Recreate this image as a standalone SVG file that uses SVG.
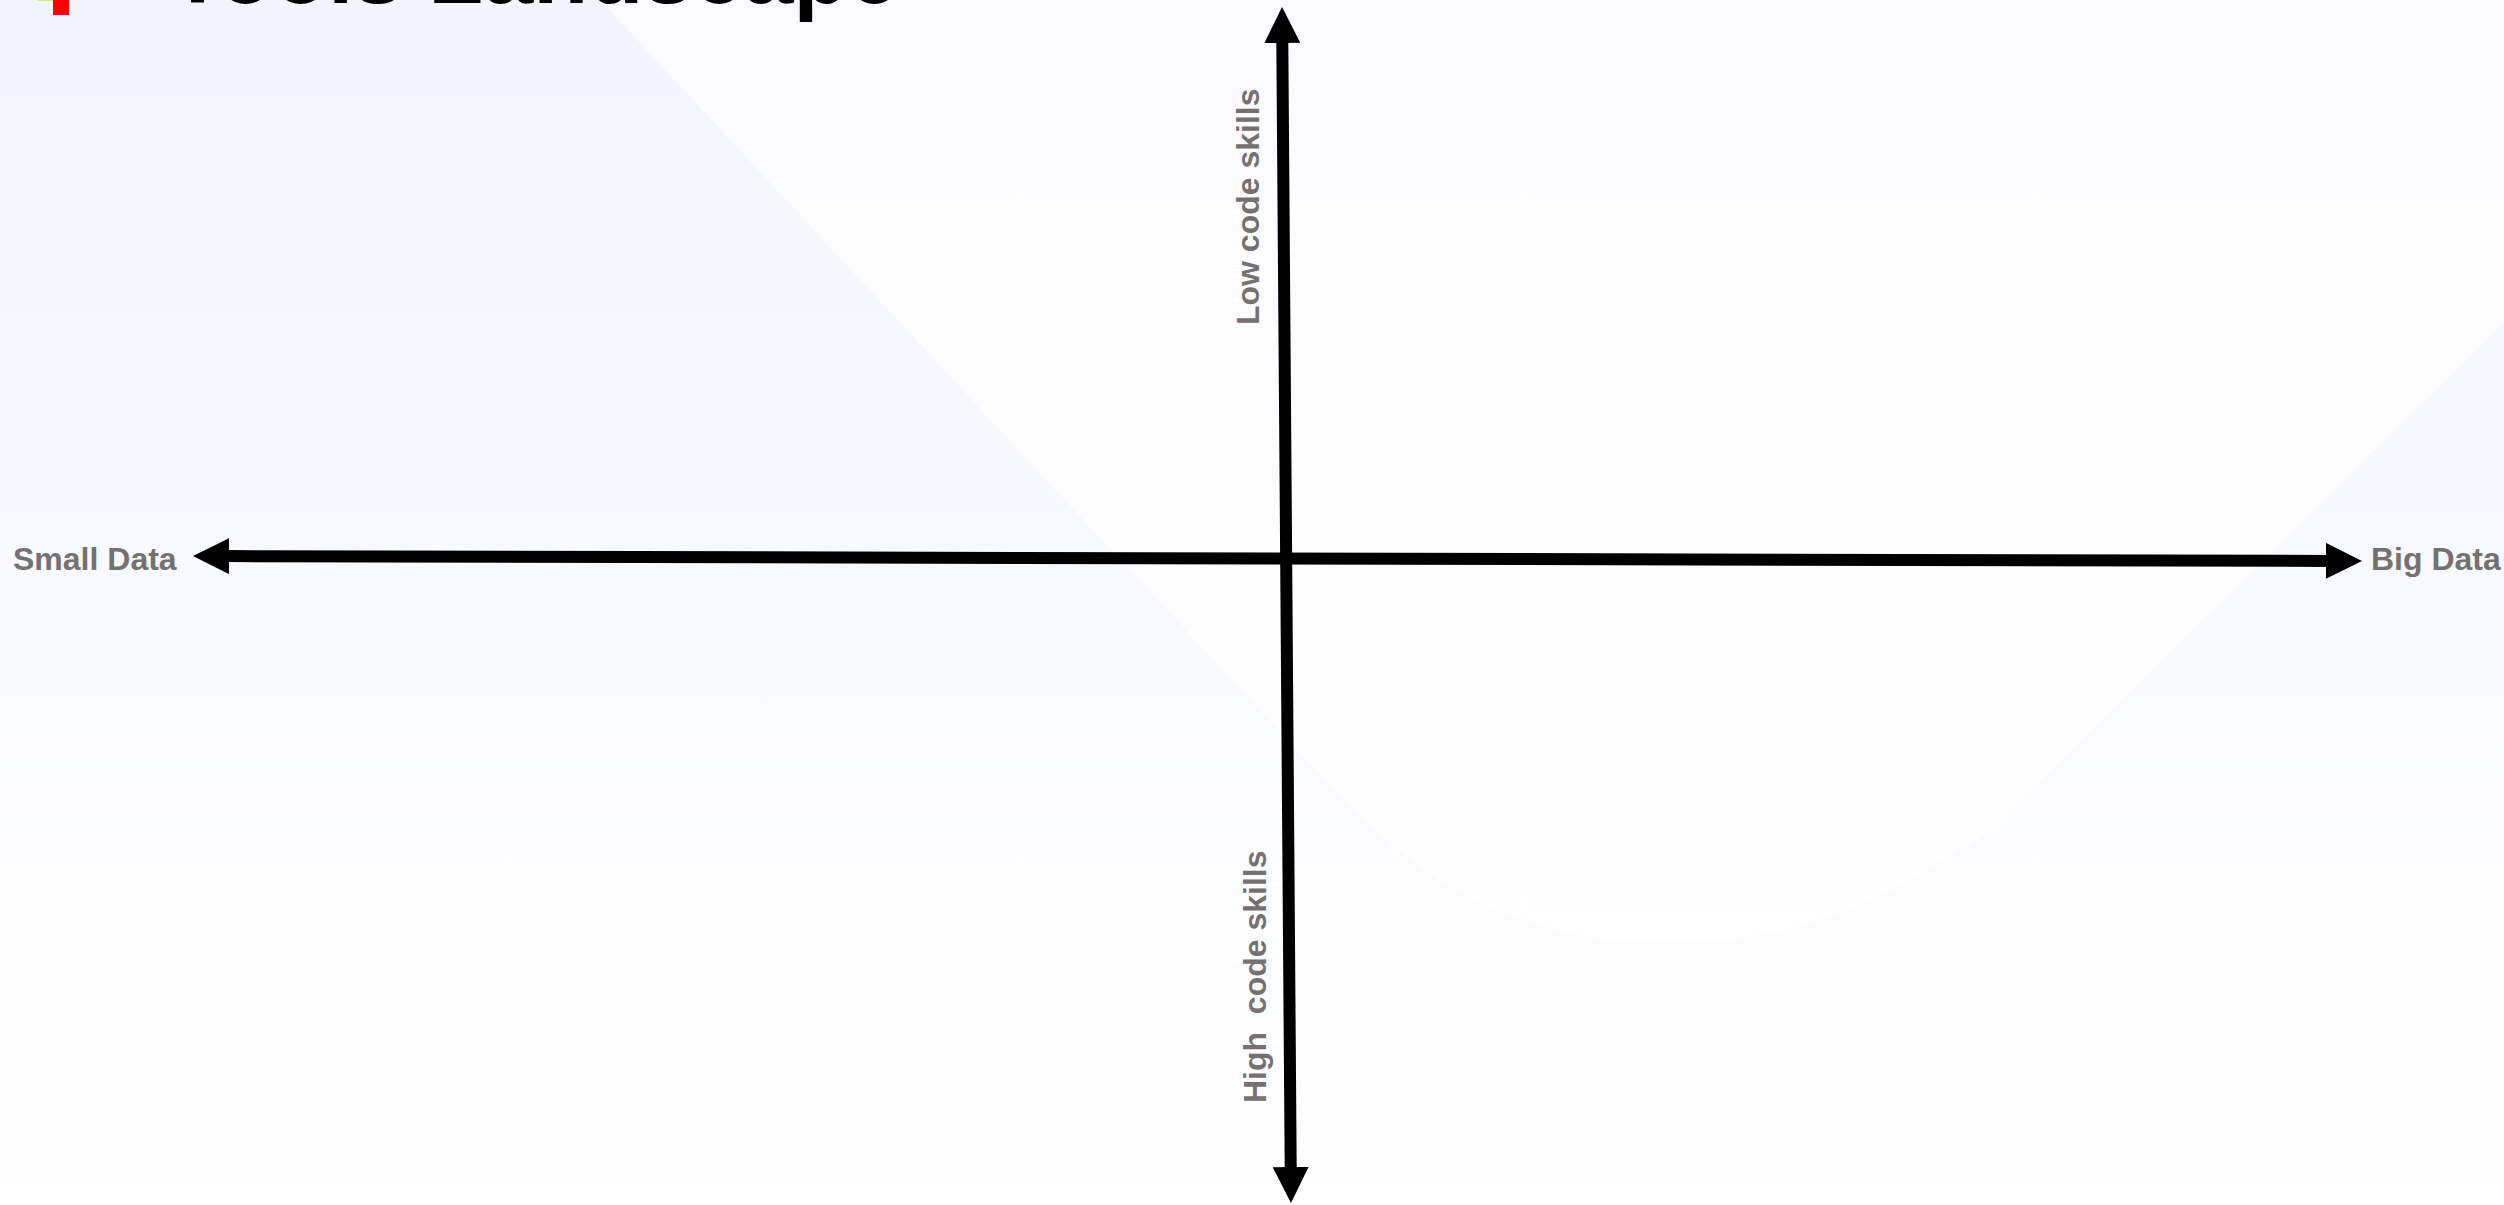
<svg xmlns="http://www.w3.org/2000/svg" width="2504" height="1205" viewBox="0 0 2504 1205">
  <defs>
    <linearGradient id="bgGrad" x1="0" y1="0" x2="0" y2="1">
      <stop offset="0" stop-color="#f3f5fe"/>
      <stop offset="0.55" stop-color="#f9fafe"/>
      <stop offset="1" stop-color="#ffffff"/>
    </linearGradient>
    <linearGradient id="waveGrad" x1="0" y1="0" x2="0" y2="1">
      <stop offset="0" stop-color="#fbfbff"/>
      <stop offset="1" stop-color="#ffffff"/>
    </linearGradient>
    <marker id="head" viewBox="0 0 36 36" refX="2" refY="18" markerWidth="36" markerHeight="36" markerUnits="userSpaceOnUse" orient="auto-start-reverse">
      <path d="M0,0 L36,18 L0,36 Z" fill="#000000"/>
    </marker>
  </defs>
  <style>
    .axis { stroke: #000000; stroke-width: 12; fill: none; }
    .lbl { font-family: "Liberation Sans", Arial, sans-serif; font-weight: bold; font-size: 32px; fill: #767171; }
    .title { font-family: "Liberation Sans", Arial, sans-serif; font-weight: bold; font-size: 90px; fill: #000000; }
  </style>

  <g id="background">
    <rect x="0" y="0" width="2504" height="1205" fill="url(#bgGrad)"/>
    <path d="M600,0 L1330,785 C1450,915 1560,945 1680,942 C1800,940 1880,905 1990,830 L2504,322 L2504,0 Z" fill="url(#waveGrad)"/>
  </g>

  <g id="title">
    <rect x="38" y="-15" width="15" height="16" fill="#c8ee8c"/>
    <rect x="53" y="-2" width="16" height="17" fill="#ff0000"/>
    <text class="title" x="170" y="3">Tools Landscape</text>
  </g>

  <g id="connectors">
    <line class="axis" x1="227" y1="556.1" x2="2328" y2="560.9" marker-start="url(#head)" marker-end="url(#head)"/>
    <line class="axis" x1="1282.3" y1="41" x2="1290.7" y2="1169" marker-start="url(#head)" marker-end="url(#head)"/>
  </g>

  <g id="small-data">
    <text class="lbl" x="13" y="570">Small Data</text>
  </g>
  <g id="big-data">
    <text class="lbl" x="2371" y="570">Big Data</text>
  </g>
  <g id="low-code">
    <text class="lbl" transform="translate(1259,325) rotate(-90)">Low code skills</text>
  </g>
  <g id="high-code">
    <text class="lbl" xml:space="preserve" style="white-space:pre" transform="translate(1266,1103) rotate(-90)">High  code skills</text>
  </g>
</svg>
